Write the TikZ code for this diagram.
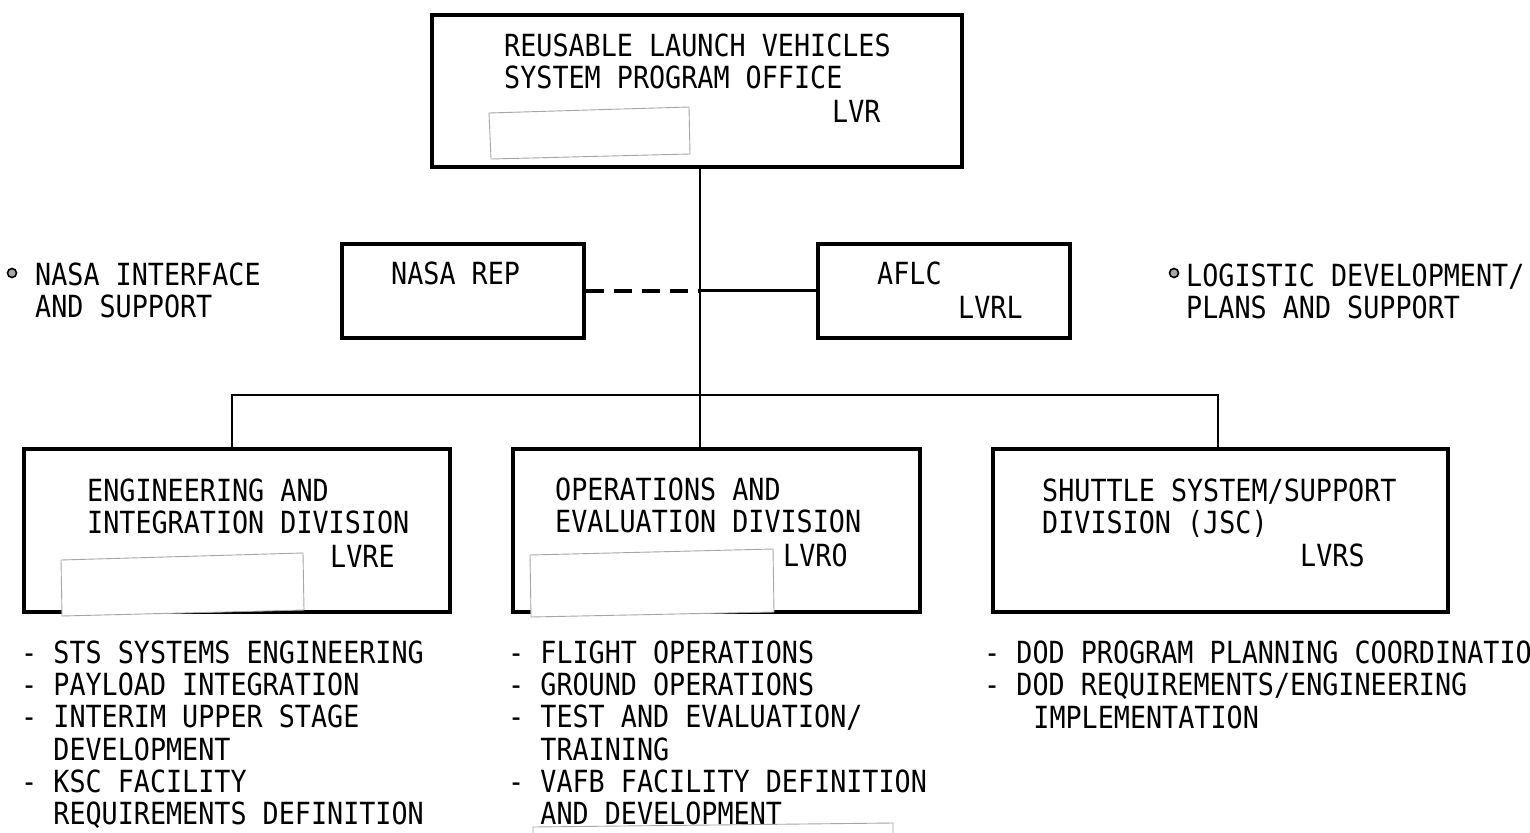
\documentclass[tikz,border=0pt]{standalone}
\usepackage{fontspec}
\newfontfamily\tw[FakeStretch=0.877]{DejaVu Sans Mono}
\begin{document}
\begin{tikzpicture}[x=1pt,y=-1pt]
\tikzset{
 box/.style={draw, line width=3.6pt, inner sep=0pt, anchor=north west},
 txt/.style={anchor=base west, inner sep=0pt, align=left, font=\tw\fontsize{30.5}{32.2}\selectfont},
 link/.style={line width=2.8pt},
 dlink/.style={line width=3.8pt, dash pattern=on 18pt off 10pt},
 redact/.style={draw=gray!70, fill=white, line width=0.9pt},
 bul/.style={circle, draw, line width=1.6pt, fill=gray!70, minimum size=9pt, inner sep=0pt}
}
\useasboundingbox[fill=white] (0,0) rectangle (1530,832);

% boxes
\node[box, minimum width=530pt, minimum height=152pt] (top) at (430,13) {};
\node[box, minimum width=242pt, minimum height=94pt] (nasa) at (340,242) {};
\node[box, minimum width=252pt, minimum height=94pt] (aflc) at (816,242) {};
\node[box, minimum width=426pt, minimum height=163pt] (eng) at (22,447) {};
\node[box, minimum width=407pt, minimum height=163pt] (ops) at (511,447) {};
\node[box, minimum width=455pt, minimum height=163pt] (sts) at (991,447) {};

% connectors
\coordinate (spine) at (700,395);
\coordinate (bl) at (232,395);
\coordinate (br) at (1218,395);
\draw[link] (top.south -| spine) -- (ops.north -| spine);
\draw[link] (eng.north -| bl) -- (bl) -- (br) -- (sts.north -| br);
\draw[dlink] (nasa.east) -- (nasa.east -| spine);
\draw[link] (nasa.east -| spine) -- (aflc.west);

% texts (multi-line nodes: base = last line)
\node[txt] (ttop) at (504,89) {REUSABLE LAUNCH VEHICLES\\SYSTEM PROGRAM OFFICE};
\node[txt] (tlvr) at (832,122.5) {LVR};
\node[txt] (tnasa) at (391,284.5) {NASA REP};
\node[txt] (taflc) at (877,284.5) {AFLC};
\node[txt] (tlvrl) at (958,318.5) {LVRL};
\node[bul] (b1) at (12,273) {};
\node[txt] (tint) at (35,317.5) {NASA INTERFACE\\AND SUPPORT};
\node[bul] (b2) at (1174,273) {};
\node[txt] (tlog) at (1186,318.5) {LOGISTIC DEVELOPMENT/\\PLANS AND SUPPORT};

\node[txt] (teng) at (87,533.5) {ENGINEERING AND\\INTEGRATION DIVISION};
\node[txt] (tlvre) at (330,567.5) {LVRE};
\node[txt] (tops) at (555,532.5) {OPERATIONS AND\\EVALUATION DIVISION};
\node[txt] (tlvro) at (783,566.5) {LVRO};
\node[txt] (tsts) at (1042,533.5) {SHUTTLE SYSTEM/SUPPORT\\DIVISION (JSC)};
\node[txt] (tlvrs) at (1300,566.5) {LVRS};

\node[txt] (leng) at (21,824.5) {- STS SYSTEMS ENGINEERING\\- PAYLOAD INTEGRATION\\- INTERIM UPPER STAGE\\\hphantom{- }DEVELOPMENT\\- KSC FACILITY\\\hphantom{- }REQUIREMENTS DEFINITION};
\node[txt] (lops) at (508,824.5) {- FLIGHT OPERATIONS\\- GROUND OPERATIONS\\- TEST AND EVALUATION/\\\hphantom{- }TRAINING\\- VAFB FACILITY DEFINITION\\\hphantom{- }AND DEVELOPMENT};
\node[txt] (lsts) at (984,728) {- DOD PROGRAM PLANNING COORDINATIO\\- DOD REQUIREMENTS/ENGINEERING\\\hphantom{- }\hspace{17pt}IMPLEMENTATION};

% redaction patches
\draw[redact] (489,113) -- (689,107) -- (690,154) -- (491,159) -- cycle;
\draw[redact] (61,560) -- (303,553) -- (304,610) -- (62,616) -- cycle;
\draw[redact] (530,555) -- (773,549) -- (774,612) -- (531,617) -- cycle;
\draw[redact] (533,845) -- (533,827) -- (893,823) -- (893,845);
\end{tikzpicture}
\end{document}
